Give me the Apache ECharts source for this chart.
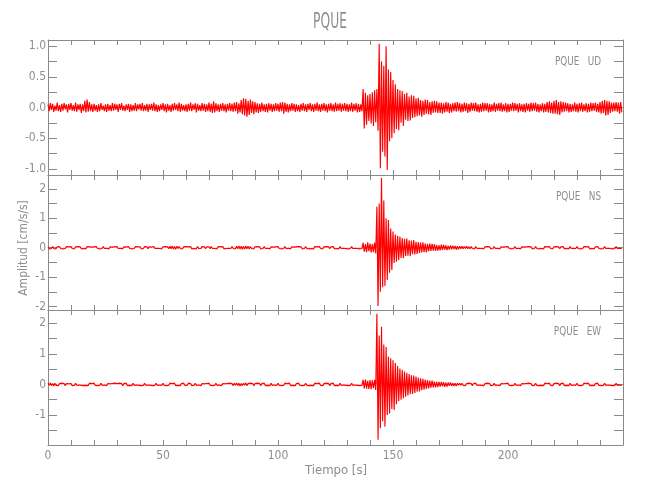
<!DOCTYPE html>
<html>
<head>
<meta charset="utf-8">
<script src="https://cdn.jsdelivr.net/npm/echarts@6/dist/echarts.min.js"></script>
<style>html,body{margin:0;padding:0;background:#fff}#chart{width:650px;height:500px}</style>
</head>
<body>
<div id="chart"></div>
<script>
// Sampling: one value every 0.5 s, amplitudes in hundredths of cm/s/s
const timeStep = 0.5;
const valueUnit = 0.01;

const udValues = [
5,-6,7,-4,6,-7,3,-5,8,-6,4,-7,6,-5,7,-3,5,-8,6,-4,
7,-5,4,-6,8,-7,5,-4,6,-9,5,-6,11,-8,13,-7,9,-6,5,-7,
6,-5,4,-7,5,-6,7,-4,3,-6,5,-7,6,-5,4,-6,7,-5,6,-4,
5,-7,6,-4,7,-5,3,-6,5,-4,6,-7,5,-6,4,-5,7,-6,5,-3,
6,-5,7,-6,4,-5,6,-7,5,-4,6,-5,8,-6,5,-7,4,-6,5,-4,
7,-6,5,-8,6,-5,4,-7,6,-5,7,-4,5,-6,8,-7,6,-5,4,-6,
5,-7,6,-5,8,-6,5,-4,7,-8,6,-5,4,-6,7,-5,6,-7,5,-6,
8,-7,6,-9,10,-8,7,-6,5,-7,6,-5,7,-6,5,-8,6,-5,7,-6,
6,-7,8,-6,9,-10,7,-8,12,-11,15,-13,14,-15,11,-12,13,-9,10,-11,
9,-8,7,-9,6,-7,8,-6,5,-7,6,-8,7,-5,6,-7,5,-6,7,-5,
6,-7,8,-6,9,-10,8,-7,6,-8,5,-6,7,-5,6,-7,5,-6,4,-7,
6,-5,7,-6,5,-7,6,-4,7,-6,5,-7,6,-5,8,-6,5,-7,6,-5,
7,-6,5,-8,6,-5,7,-6,5,-7,8,-6,6,-5,7,-7,6,-5,7,-6,
6,-7,5,-6,8,-7,6,-5,7,-8,6,-7,5,-6,30,-34,24,-28,20,-22,
22,-26,25,-30,28,-24,30,-38,104,-99,75,-72,68,-80,100,-102,62,-55,58,-50,
45,-42,38,-35,30,-37,28,-25,27,-30,22,-20,24,-22,18,-21,20,-17,19,-16,
15,-14,16,-13,12,-15,11,-12,13,-10,12,-11,9,-12,10,-9,11,-8,10,-9,
8,-9,8,-10,7,-8,9,-7,8,-9,6,-8,7,-6,8,-7,9,-6,7,-8,
6,-7,8,-6,7,-9,6,-7,8,-5,7,-6,8,-7,5,-8,6,-7,8,-6,
7,-5,7,-8,6,-7,5,-6,8,-7,6,-5,7,-6,8,-7,5,-6,7,-8,
6,-7,6,-5,8,-6,7,-5,6,-8,7,-6,5,-7,6,-8,7,-5,6,-7,
8,-6,7,-5,8,-7,6,-8,5,-6,7,-8,6,-7,9,-8,10,-9,8,-10,
11,-10,12,-11,9,-12,10,-8,9,-7,8,-6,7,-8,6,-7,5,-6,8,-7,
6,-8,7,-6,8,-7,5,-6,7,-8,6,-7,8,-6,7,-5,8,-7,6,-8,
9,-10,11,-9,12,-13,11,-12,10,-9,8,-7,8,-6,9,-7,8,-10,9,-8
];

const nsValues = [
3,-4,2,-3,4,-3,2,-4,3,-2,4,-3,3,-4,2,-3,4,-2,3,-3,
4,-3,2,-4,3,-3,4,-2,3,-4,2,-3,3,-4,4,-2,3,-3,2,-4,
3,-2,4,-3,3,-4,2,-3,4,-3,3,-2,4,-4,3,-3,2,-4,3,-2,
4,-3,3,-2,4,-4,3,-3,2,-3,4,-3,3,-4,2,-3,4,-2,3,-3,
3,-4,2,-3,4,-2,3,-4,3,-3,2,-4,4,-3,3,-2,4,-3,2,-4,
3,-3,4,-2,3,-4,5,-4,6,-5,4,-6,5,-3,4,-3,2,-4,3,-3,
4,-2,3,-3,4,-4,2,-3,3,-4,4,-3,2,-3,4,-2,3,-4,3,-2,
3,-4,4,-3,2,-3,3,-4,4,-2,3,-3,4,-4,2,-3,3,-2,4,-3,
4,-3,3,-4,5,-4,6,-5,5,-6,4,-5,6,-4,5,-5,4,-3,3,-4,
3,-3,4,-2,3,-4,2,-3,4,-3,3,-2,4,-4,3,-3,2,-4,3,-3,
4,-3,3,-4,2,-3,4,-3,3,-2,4,-4,3,-3,2,-4,3,-3,4,-2,
3,-4,2,-3,4,-3,3,-4,2,-3,3,-4,4,-2,3,-3,4,-3,2,-4,
3,-3,4,-2,3,-4,3,-3,4,-4,2,-3,3,-4,4,-3,3,-2,4,-3,
3,-4,2,-3,4,-3,3,-2,4,-3,3,-4,2,-3,16,-14,12,-15,18,-12,
14,-16,12,-15,17,-20,140,-198,150,-150,237,-135,160,-130,100,-110,94,-85,65,-76,
55,-52,45,-48,40,-42,38,-35,33,-36,30,-28,31,-27,25,-29,24,-22,26,-23,
20,-21,19,-18,17,-16,18,-15,14,-16,13,-12,14,-11,13,-10,12,-11,9,-10,
8,-9,10,-8,9,-7,8,-8,6,-7,8,-6,7,-5,6,-7,5,-6,5,-4,
5,-4,4,-3,5,-4,3,-4,4,-3,3,-4,4,-3,3,-2,4,-3,3,-4,
3,-3,4,-2,3,-4,2,-3,4,-3,3,-2,4,-4,3,-3,2,-4,3,-3,
4,-3,3,-4,2,-3,4,-3,3,-2,4,-4,3,-3,2,-4,3,-3,4,-2,
3,-4,2,-3,4,-3,3,-4,2,-3,3,-4,4,-2,3,-3,4,-3,2,-4,
3,-3,4,-2,3,-4,3,-3,4,-4,2,-3,3,-4,4,-3,3,-2,4,-3,
4,-3,3,-4,2,-3,4,-2,3,-3,4,-4,2,-3,3,-4,3,-2,4,-3,
3,-4,2,-3,4,-3,3,-2,4,-3,3,-4,2,-3,4,-3,3,-2,4,-3
];

const ewValues = [
4,-3,5,-4,3,-5,4,-3,2,-4,3,-3,4,-2,3,-4,3,-3,2,-3,
3,-4,2,-3,4,-3,3,-2,4,-3,3,-4,2,-3,3,-4,4,-2,3,-3,
4,-3,3,-4,2,-3,4,-3,3,-2,4,-4,3,-3,2,-4,3,-3,4,-2,
3,-3,4,-2,3,-4,3,-3,4,-4,2,-3,3,-4,4,-3,3,-2,4,-3,
3,-4,2,-3,4,-3,3,-2,4,-3,3,-4,2,-3,4,-3,3,-2,4,-3,
4,-3,3,-4,2,-3,4,-2,3,-3,4,-4,2,-3,3,-4,3,-2,4,-3,
3,-3,4,-2,3,-4,2,-3,4,-3,3,-2,4,-4,3,-3,2,-4,3,-3,
4,-3,3,-4,2,-3,4,-3,3,-2,4,-4,3,-3,2,-4,3,-3,4,-2,
3,-4,4,-3,5,-4,4,-5,3,-4,4,-3,5,-4,3,-3,4,-2,3,-4,
3,-3,4,-2,3,-4,3,-3,4,-4,2,-3,3,-4,4,-3,3,-2,4,-3,
4,-3,3,-4,2,-3,4,-2,3,-3,4,-4,2,-3,3,-4,3,-2,4,-3,
3,-4,2,-3,4,-3,3,-4,2,-3,3,-4,4,-2,3,-3,4,-3,2,-4,
3,-3,4,-2,3,-4,3,-3,4,-4,2,-3,3,-4,4,-3,3,-2,4,-3,
3,-4,2,-3,4,-3,3,-2,4,-3,3,-4,2,-3,15,-13,16,-14,12,-15,
14,-16,13,-12,15,-18,231,-181,160,-143,188,-120,130,-138,122,-100,90,-95,85,-80,
79,-84,70,-65,60,-55,52,-50,48,-45,42,-40,38,-36,34,-32,30,-31,29,-28,
26,-24,22,-23,20,-19,18,-17,16,-15,14,-13,12,-11,12,-10,9,-10,8,-9,
8,-7,8,-6,7,-8,6,-7,6,-5,6,-5,4,-5,4,-5,4,-3,4,-3,
4,-3,3,-4,3,-3,4,-2,3,-4,3,-3,4,-3,3,-2,4,-3,3,-4,
3,-3,4,-2,3,-4,2,-3,4,-3,3,-2,4,-4,3,-3,2,-4,3,-3,
4,-3,3,-4,2,-3,4,-3,3,-2,4,-4,3,-3,2,-4,3,-3,4,-2,
3,-4,2,-3,4,-3,3,-4,2,-3,3,-4,4,-2,3,-3,4,-3,2,-4,
3,-3,4,-2,3,-4,3,-3,4,-4,2,-3,3,-4,4,-3,3,-2,4,-3,
4,-3,3,-4,2,-3,4,-2,3,-3,4,-4,2,-3,3,-4,3,-2,4,-3,
3,-4,2,-3,4,-3,3,-2,4,-3,3,-4,2,-3,4,-3,3,-2,4,-3
];

const stationName = 'PQUE';
const componentNames = ['UD', 'NS', 'EW'];
const xTickValues = [0,10,20,30,40,50,60,70,80,90,100,110,120,130,140,150,160,170,180,190,200,210,220,230,240];
const xLabelValues = [0, 50, 100, 150, 200];
const udTickValues = [-1, -0.75, -0.5, -0.25, 0, 0.25, 0.5, 0.75, 1];
const udLabelValues = [-1, -0.5, 0, 0.5, 1];
const nsTickValues = [-2, -1.5, -1, -0.5, 0, 0.5, 1, 1.5, 2];
const nsLabelValues = [-2, -1, 0, 1, 2];
const ewTickValues = [-1.5, -1, -0.5, 0, 0.5, 1, 1.5, 2];
const ewLabelValues = [-1, 0, 1, 2];
const yRanges = [[-1.1, 1.1], [-2.12, 2.47], [-1.98, 2.43]];
const xRange = [0, 250];
const xAxisTitle = 'Tiempo [s]';
const yAxisTitle = 'Amplitud [cm/s/s]';

const FONT = '"Liberation Sans Narrow", "DejaVu Sans Condensed", "Liberation Sans", sans-serif';
const GRAY = '#8e8e8e';
const AXIS = '#8a8a8a';

const panels = [
  { values: udValues, ticks: udTickValues, labels: udLabelValues, dec: 1 },
  { values: nsValues, ticks: nsTickValues, labels: nsLabelValues, dec: 0 },
  { values: ewValues, ticks: ewTickValues, labels: ewLabelValues, dec: 0 }
];

const gridTops = [40, 175, 310];
const grid = gridTops.map(t => ({ left: 48, width: 575, top: t, height: 135, containLabel: false }));

const xAxis = [], yAxis = [], series = [];
panels.forEach((p, i) => {
  const base = {
    type: 'value', gridIndex: i, min: xRange[0], max: xRange[1],
    axisLine: { show: true, onZero: false, lineStyle: { color: AXIS, width: 1 } },
    axisTick: { show: true, inside: true, length: 5, customValues: xTickValues, lineStyle: { color: AXIS } },
    splitLine: { show: false }
  };
  xAxis.push(Object.assign({}, base, {
    position: 'bottom',
    axisLabel: { show: i === 2, customValues: xLabelValues, color: GRAY, fontSize: 12, fontFamily: FONT, margin: 5 }
  }));
  xAxis.push(Object.assign({}, base, { position: 'top', axisLabel: { show: false } }));
  const yb = {
    type: 'value', gridIndex: i, min: yRanges[i][0], max: yRanges[i][1],
    axisLine: { show: true, onZero: false, lineStyle: { color: AXIS, width: 1 } },
    axisTick: { show: true, inside: true, length: 9, customValues: p.ticks, lineStyle: { color: AXIS } },
    splitLine: { show: false }
  };
  yAxis.push(Object.assign({}, yb, {
    position: 'left',
    axisLabel: {
      show: true, customValues: p.labels, color: GRAY, fontSize: 12, fontFamily: FONT, margin: 2,
      formatter: v => (v < 0 ? '-' : '') + Math.abs(v).toFixed(p.dec)
    }
  }));
  yAxis.push(Object.assign({}, yb, { position: 'right', axisLabel: { show: false } }));
  series.push({
    type: 'line', xAxisIndex: i * 2, yAxisIndex: i * 2,
    data: p.values.map((v, k) => [k * timeStep, v * valueUnit]),
    showSymbol: false, symbol: 'none', sampling: null, animation: false,
    lineStyle: { color: '#ff0000', width: 1.15 },
    areaStyle: { color: '#ff0000', opacity: 0.45, origin: 0 },
    clip: true
  });
});

const graphic = [
  { type: 'text', x: 330, y: 22, scaleX: 0.62,
    style: { text: stationName, fontSize: 22, fontFamily: FONT, fill: GRAY, textAlign: 'center', textVerticalAlign: 'middle' } },
  { type: 'text', x: 336, y: 471,
    style: { text: xAxisTitle, fontSize: 13, fontFamily: FONT, fill: GRAY, textAlign: 'center', textVerticalAlign: 'middle' } },
  { type: 'text', x: 24, y: 248, rotation: Math.PI / 2,
    style: { text: yAxisTitle, fontSize: 12, fontFamily: FONT, fill: GRAY, textAlign: 'center', textVerticalAlign: 'middle' } }
];
componentNames.forEach((c, i) => {
  graphic.push({ type: 'text', x: 601, y: gridTops[i] + 22, scaleX: 0.82,
    style: { text: stationName + '   ' + c, fontSize: 12, fontFamily: FONT, fill: GRAY, textAlign: 'right', textVerticalAlign: 'middle' } });
});

const chart = echarts.init(document.getElementById('chart'), null, { renderer: 'canvas' });
chart.setOption({
  animation: false,
  backgroundColor: '#ffffff',
  grid, xAxis, yAxis, series, graphic
});
</script>
</body>
</html>
